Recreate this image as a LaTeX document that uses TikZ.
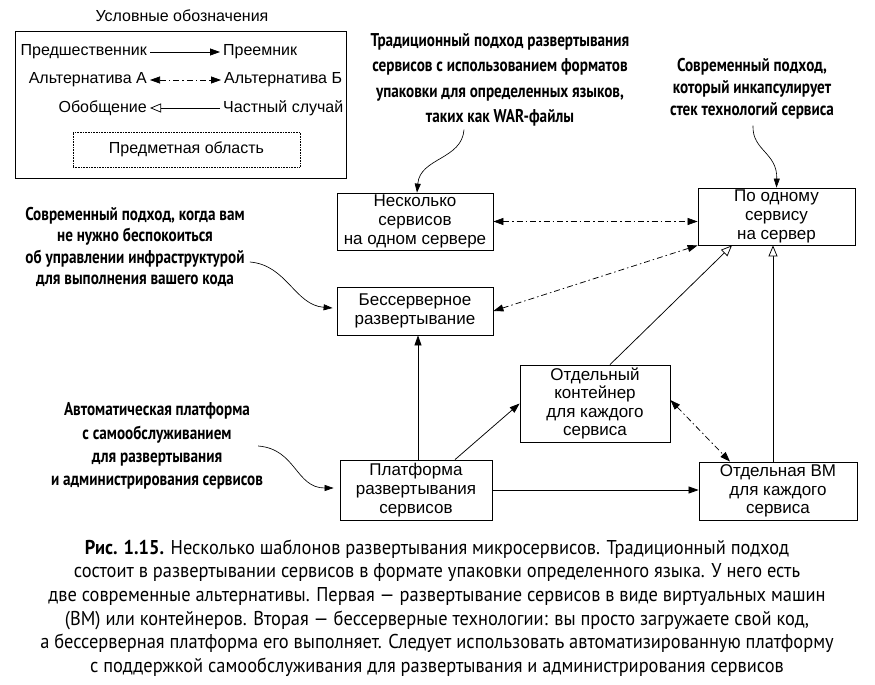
\documentclass[tikz,border=0pt]{standalone}
\usepackage{fontspec}
\setmainfont{Liberation Sans}
\newfontfamily\condfont[FakeStretch=0.82]{PT Sans}
\newfontfamily\capfont[FakeStretch=0.92]{PT Sans}
\usetikzlibrary{arrows.meta}
\begin{document}
\begin{tikzpicture}[x=1pt,y=-1pt,
  bx/.style={draw, line width=0.8pt, align=center, inner sep=0pt,
    font=\fontsize{17}{18.8}\selectfont},
  leg/.style={inner sep=3pt, font=\fontsize{16}{18}\selectfont},
  anno/.style={align=center, inner sep=0pt, font=\condfont\bfseries\fontsize{18.5}{25.4}\selectfont},
  con/.style={line width=0.75pt},
  fa/.style={con, -{Triangle[length=10pt,width=7pt]}},
  oa/.style={con, -{Triangle[open,length=11pt,width=9pt,fill=white]}},
  dd/.style={con, dash pattern=on 6pt off 3pt on 1.5pt off 3pt,
    {Triangle[length=10pt,width=7pt]}-{Triangle[length=10pt,width=7pt]}},
  cv/.style={line width=0.65pt, -{Triangle[length=9pt,width=6pt]}}]
\useasboundingbox (0,0) rectangle (875,685);
\fill[white] (0,0) rectangle (875,685);

% legend
\node[leg] (lt) at (182,16) {Условные обозначения};
\node[draw, line width=0.8pt, minimum width=331pt, minimum height=147pt, inner sep=0pt] (lb) at (180.5,104.5) {};
\node[leg, anchor=east] (l1a) at (150,52) {Предшественник};
\node[leg, anchor=west] (l1b) at (220,52) {Преемник};
\node[leg, anchor=east] (l2a) at (150,80) {Альтернатива А};
\node[leg, anchor=west] (l2b) at (221,80) {Альтернатива Б};
\node[leg, anchor=east] (l3a) at (150,108) {Обобщение};
\node[leg, anchor=west] (l3b) at (220,108) {Частный случай};
\draw[fa] (l1a.east) -- (l1b.west);
\draw[dd] (l2a.east) -- (l2b.west);
\draw[oa] (l3b.west) -- (l3a.east);
\node[leg, draw, densely dotted, line width=0.6pt, minimum width=227pt, minimum height=35pt] (ld) at (186.5,149.5) {Предметная область};

% boxes
\node[bx, minimum width=156pt, minimum height=57pt] (n1) at (415,221.5) {Несколько\\сервисов\\на одном сервере};
\node[bx, minimum width=157pt, minimum height=57pt] (n2) at (776.5,216.5) {По одному\\сервису\\на сервер};
\node[bx, minimum width=156pt, minimum height=48pt] (n3) at (415,311) {Бессерверное\\развертывание};
\node[bx, minimum width=150pt, minimum height=77pt, font=\fontsize{17}{18.3}\selectfont] (n4) at (595,403.5) {Отдельный\\контейнер\\для каждого\\сервиса};
\node[bx, minimum width=152pt, minimum height=60pt] (n5) at (416,490) {Платформа\\развертывания\\сервисов};
\node[bx, minimum width=158pt, minimum height=58pt] (n6) at (778,491) {Отдельная ВМ\\для каждого\\сервиса};

% connectors
\draw[dd] (n1.east) -- (n1.east -| n2.west);
\draw[dd] (n3.east) -- (n2.south west);
\draw[oa] ([xshift=15pt]n4.north) -- ([xshift=-44.5pt]n2.south);
\draw[oa] ([xshift=-5pt]n6.north) -- ([xshift=-5pt]n6.north |- n2.south);
\draw[fa] ([xshift=2pt]n5.north) -- ([xshift=2pt]n5.north |- n3.south);
\draw[fa] ([xshift=39pt]n5.north) -- (n4.west);
\draw[fa] (n5.east) -- (n5.east -| n6.west);
\draw[dd] ([yshift=3.5pt]n4.east) -- ([xshift=-48pt]n6.north);

% annotations
\node[anno] (a1) at (500,80) {Традиционный подход развертывания\\сервисов с использованием форматов\\упаковки для определенных языков,\\таких как WAR-файлы};
\node[anno, font=\condfont\bfseries\fontsize{18.5}{22}\selectfont] (a2) at (752,89) {Современный подход,\\который инкапсулирует\\стек технологий сервиса};
\node[anno, font=\condfont\bfseries\fontsize{18.5}{21.2}\selectfont] (a3) at (135,247) {Современный подход, когда вам\\не нужно беспокоиться\\об управлении инфраструктурой\\для выполнения вашего кода};
\node[anno, font=\condfont\bfseries\fontsize{18.5}{23.3}\selectfont] (a4) at (157,446) {Автоматическая платформа\\с самообслуживанием\\для развертывания\\и администрирования сервисов};

\draw[cv] ([xshift=-36pt,yshift=-3pt]a1.south) .. controls +(-2,30) and +(3,-35) .. ([xshift=2pt]n1.north);
\draw[cv] ([xshift=1pt,yshift=-6pt]a2.south) .. controls +(-1,25) and +(1,-35) .. (n2.north);
\draw[cv] ([xshift=5pt,yshift=-15pt]a3.east) .. controls +(37,3) and +(-38,-3) .. ([xshift=-4pt,yshift=3pt]n3.west);
\draw[cv] ([xshift=-5pt]a4.east) .. controls +(38,3) and +(-38,0) .. ([xshift=-6pt,yshift=2pt]n5.west);

% caption
\node[align=center, inner sep=0pt, font=\capfont\fontsize{20}{23.6}\selectfont] (cap) at (437,608) {{\bfseries Рис. 1.15.} Несколько шаблонов развертывания микросервисов. Традиционный подход\\состоит в развертывании сервисов в формате упаковки определенного языка. У него есть\\две современные альтернативы. Первая — развертывание сервисов в виде виртуальных машин\\(ВМ) или контейнеров. Вторая — бессерверные технологии: вы просто загружаете свой код,\\а бессерверная платформа его выполняет. Следует использовать автоматизированную платформу\\с поддержкой самообслуживания для развертывания и администрирования сервисов};
\end{tikzpicture}
\end{document}
